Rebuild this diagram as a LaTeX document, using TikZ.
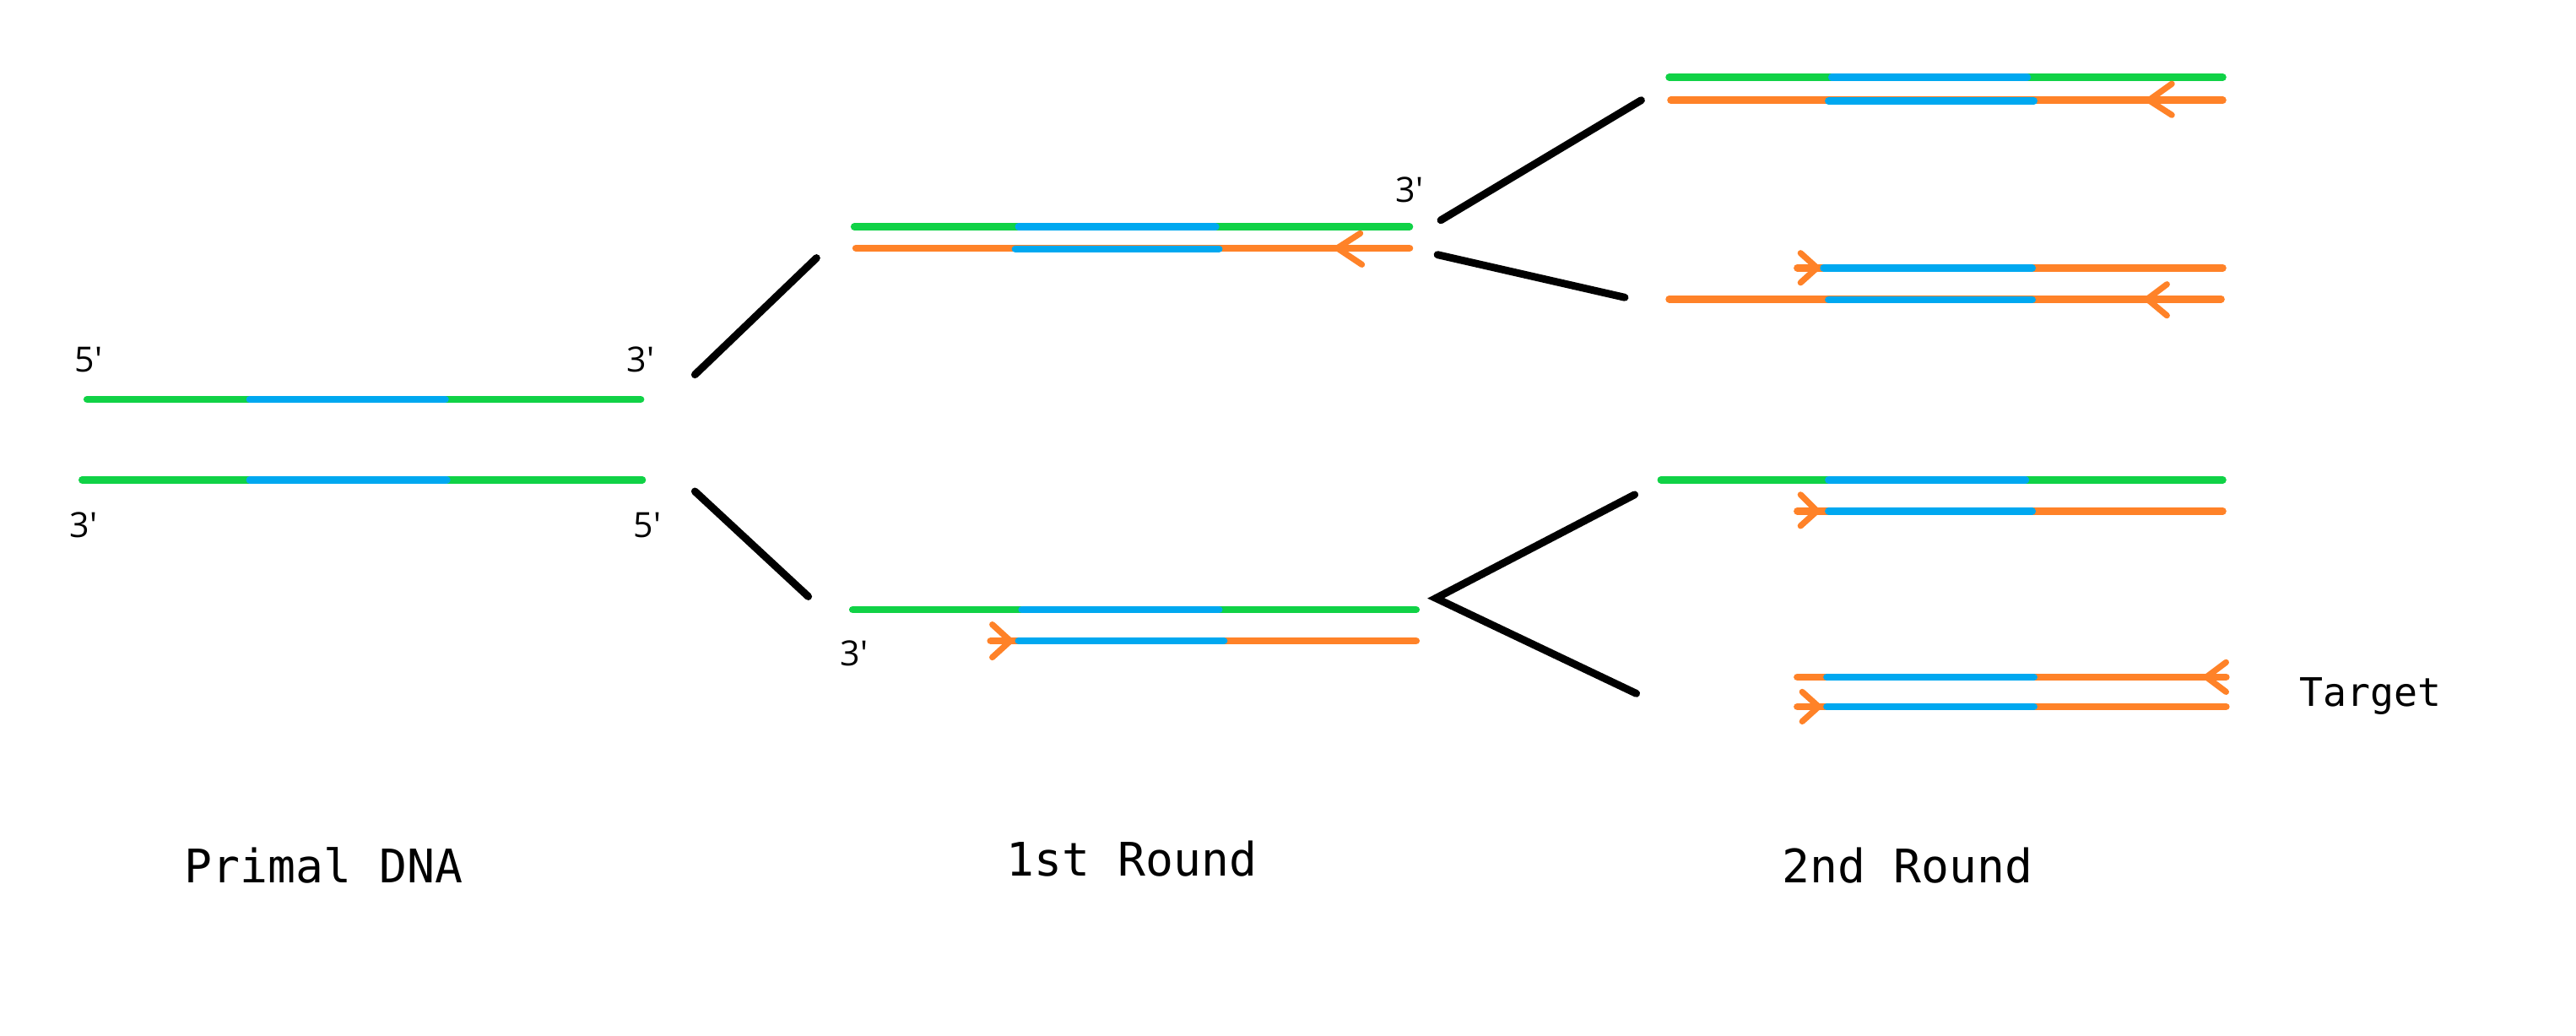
\documentclass[tikz,border=0pt]{standalone}
\usepackage{fontspec}
\newfontfamily\labfont{Open Sans}
\newfontfamily\monofont{DejaVu Sans Mono}
\definecolor{dgreen}{RGB}{16,210,70}
\definecolor{dblue}{RGB}{0,168,240}
\definecolor{dorange}{RGB}{255,130,40}
\begin{document}
\begin{tikzpicture}[x=0.01cm,y=-0.01cm,
  sg/.style={draw=dgreen,line width=1.25pt,line cap=round},
  sb/.style={draw=dblue,line width=1.25pt,line cap=round},
  so/.style={draw=dorange,line width=1.25pt,line cap=round},
  chev/.style={draw=dorange,line width=1.05pt,line cap=round,line join=round},
  link/.style={draw=black,line width=1.3pt,line cap=round},
  prime/.style={font=\labfont\fontsize{6pt}{7pt}\selectfont,anchor=base,inner sep=0pt},
  title/.style={font=\monofont\fontsize{8pt}{9pt}\selectfont,anchor=base,inner sep=0pt},
  tgt/.style={font=\monofont\fontsize{6.8pt}{8pt}\selectfont,anchor=base,inner sep=0pt}]
\useasboundingbox (0,0) rectangle (1568,630.4);
% ---------- Primal DNA ----------
\draw[sg] (53,243) -- (390,243);
\draw[sb] (152,243) -- (271,243);
\draw[sg] (50,292) -- (391,292);
\draw[sb] (152,292) -- (272,292);
\node[prime] (p5a) at (54,226.5) {5\textquotesingle};
\node[prime] (p3a) at (390,226.5) {3\textquotesingle};
\node[prime] (p3b) at (51,327) {3\textquotesingle};
\node[prime] (p5b) at (394,327) {5\textquotesingle};
\coordinate (a1) at (423,228); \coordinate (a2) at (497,157);
\coordinate (b1) at (423,299); \coordinate (b2) at (492,363);
\draw[link] (a1) -- (a2);
\draw[link] (b1) -- (b2);
% ---------- 1st round, top ----------
\draw[sg] (520,138) -- (858,138);
\draw[sb] (620,138) -- (740,138);
\draw[so] (521,151) -- (858,151);
\draw[sb] (618,151.5) -- (742,151.5);
\draw[chev] (828,142) -- (814,151) -- (829,161);
\node[prime] (p3c) at (858,123) {3\textquotesingle};
\coordinate (c0) at (877,134); \coordinate (c1) at (999,61);
\coordinate (d0) at (875,155); \coordinate (d1) at (989,181);
\draw[link] (c0) -- (c1);
\draw[link] (d0) -- (d1);
% ---------- 1st round, bottom ----------
\draw[sg] (519,371) -- (862,371);
\draw[sb] (622,371) -- (742,371);
\draw[so] (603,390) -- (862,390);
\draw[sb] (620,390) -- (745,390);
\draw[chev] (604,380) -- (615,390) -- (604,400);
\node[prime] (p3d) at (520,405) {3\textquotesingle};
\coordinate (e0) at (874,364); \coordinate (e1) at (995,301); \coordinate (e2) at (996,422);
\draw[link] (e1) -- (e0) -- (e2);
% ---------- 2nd round ----------
% row 1
\draw[sg] (1016,47) -- (1353,47);
\draw[sb] (1115,47) -- (1234,47);
\draw[so] (1017,61) -- (1353,61);
\draw[sb] (1113,61.5) -- (1238,61.5);
\draw[chev] (1322,51) -- (1308,61) -- (1322,70);
% row 2
\draw[so] (1094,163) -- (1353,163);
\draw[sb] (1110,163) -- (1237,163);
\draw[chev] (1096,154) -- (1106,163) -- (1096,172);
\draw[so] (1016,182) -- (1352,182);
\draw[sb] (1113,182.5) -- (1237,182.5);
\draw[chev] (1319,173) -- (1307,182) -- (1319,192);
% row 3
\draw[sg] (1011,292) -- (1353,292);
\draw[sb] (1113,292) -- (1233,292);
\draw[so] (1094,311) -- (1353,311);
\draw[sb] (1113,311) -- (1237,311);
\draw[chev] (1096,301) -- (1106,311) -- (1096,320);
% row 4
\draw[so] (1094,412) -- (1355,412);
\draw[sb] (1112,412) -- (1238,412);
\draw[chev] (1355,403) -- (1343,412) -- (1355,421);
\draw[so] (1094,430) -- (1355,430);
\draw[sb] (1112,430) -- (1238,430);
\draw[chev] (1097,421) -- (1107,430) -- (1097,439);
\node[tgt] (target) at (1443,430) {Target};
% ---------- titles ----------
\node[title] (t0) at (197,537) {Primal DNA};
\node[title] (t1) at (689,533) {1st Round};
\node[title] (t2) at (1161,537) {2nd Round};
\end{tikzpicture}
\end{document}
